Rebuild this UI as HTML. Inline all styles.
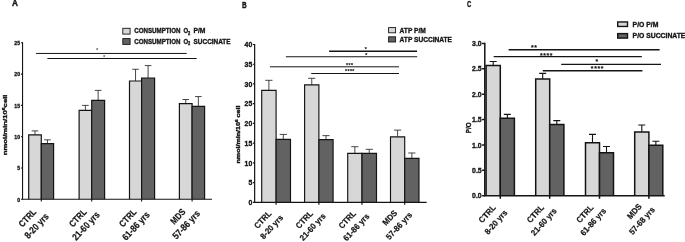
<!DOCTYPE html>
<html><head><meta charset="utf-8"><title>Figure</title>
<style>
html,body{margin:0;padding:0;background:#fff;}
svg{display:block;font-family:"Liberation Sans",sans-serif;font-weight:bold;fill:#141414;}
svg text{stroke:#141414;stroke-width:0.35px;}
svg text.xl{stroke-width:0.2px;}
svg text.st{stroke:#222;stroke-width:0.15px;fill:#222;}
</style></head><body>
<svg width="685" height="242" viewBox="0 0 685 242">
<rect width="685" height="242" fill="#fff"/>
<path d="M35 134.82V130.88M31.7 130.88H38.3" stroke="#333" stroke-width="0.9" fill="none"/>
<path d="M28.7 199.3V134.82H41.3V199.3" fill="#d7d7d7" stroke="#141414" stroke-width="1.2" stroke-linejoin="miter"/>
<path d="M47.45 143.59V139.83M44.15 139.83H50.75" stroke="#333" stroke-width="0.9" fill="none"/>
<path d="M41.3 199.3V143.59H53.6V199.3" fill="#626262" stroke="#141414" stroke-width="1.2" stroke-linejoin="miter"/>
<path d="M85.4 110.41V105.4M82.1 105.4H88.7" stroke="#333" stroke-width="0.9" fill="none"/>
<path d="M79.1 199.3V110.41H91.7V199.3" fill="#d7d7d7" stroke="#141414" stroke-width="1.2" stroke-linejoin="miter"/>
<path d="M98.15 100.39V90.38M94.85 90.38H101.45" stroke="#333" stroke-width="0.9" fill="none"/>
<path d="M91.7 199.3V100.39H104.6V199.3" fill="#626262" stroke="#141414" stroke-width="1.2" stroke-linejoin="miter"/>
<path d="M135.55 80.99V69.28M132.25 69.28H138.85" stroke="#333" stroke-width="0.9" fill="none"/>
<path d="M129.5 199.3V80.99H141.6V199.3" fill="#d7d7d7" stroke="#141414" stroke-width="1.2" stroke-linejoin="miter"/>
<path d="M148.1 77.98V65.59M144.8 65.59H151.4" stroke="#333" stroke-width="0.9" fill="none"/>
<path d="M141.6 199.3V77.98H154.6V199.3" fill="#626262" stroke="#141414" stroke-width="1.2" stroke-linejoin="miter"/>
<path d="M185.75 103.71V99.52M182.45 99.52H189.05" stroke="#333" stroke-width="0.9" fill="none"/>
<path d="M179.4 199.3V103.71H192.1V199.3" fill="#d7d7d7" stroke="#141414" stroke-width="1.2" stroke-linejoin="miter"/>
<path d="M198.35 106.4V96.57M195.05 96.57H201.65" stroke="#333" stroke-width="0.9" fill="none"/>
<path d="M192.1 199.3V106.4H204.6V199.3" fill="#626262" stroke="#141414" stroke-width="1.2" stroke-linejoin="miter"/>
<path d="M22.55 42.3V199.3H212" stroke="#141414" stroke-width="1.1" fill="none"/>
<text transform="translate(20.05 201.52) scale(0.83 1)" font-size="6.2" text-anchor="end">0</text>
<text transform="translate(20.05 170.22) scale(0.83 1)" font-size="6.2" text-anchor="end">5</text>
<text transform="translate(20.05 138.92) scale(0.83 1)" font-size="6.2" text-anchor="end">10</text>
<text transform="translate(20.05 107.62) scale(0.83 1)" font-size="6.2" text-anchor="end">15</text>
<text transform="translate(20.05 76.32) scale(0.83 1)" font-size="6.2" text-anchor="end">20</text>
<text transform="translate(20.05 45.02) scale(0.83 1)" font-size="6.2" text-anchor="end">25</text>
<path d="M20.95 199.3H22.55M20.95 168H22.55M20.95 136.7H22.55M20.95 105.4H22.55M20.95 74.1H22.55M20.95 42.8H22.55M41.3 199.3V201.5M91.7 199.3V201.5M141.6 199.3V201.5M192.1 199.3V201.5" stroke="#141414" stroke-width="1.1" fill="none"/>
<text transform="translate(29.69 220.13) rotate(-47) scale(0.85 1)" font-size="9.2" text-anchor="middle" class="xl">CTRL</text>
<text transform="translate(38.92 228.11) rotate(-47) scale(0.85 1)" font-size="9.6" text-anchor="middle" class="xl">8-20 yrs</text>
<text transform="translate(80.09 220.13) rotate(-47) scale(0.85 1)" font-size="9.2" text-anchor="middle" class="xl">CTRL</text>
<text transform="translate(88.32 228.11) rotate(-47) scale(0.85 1)" font-size="9.6" text-anchor="middle" class="xl">21-60 yrs</text>
<text transform="translate(129.99 220.13) rotate(-47) scale(0.85 1)" font-size="9.2" text-anchor="middle" class="xl">CTRL</text>
<text transform="translate(138.22 228.11) rotate(-47) scale(0.85 1)" font-size="9.6" text-anchor="middle" class="xl">61-86 yrs</text>
<text transform="translate(180.19 218.63) rotate(-47) scale(0.85 1)" font-size="9.2" text-anchor="middle" class="xl">MDS</text>
<text transform="translate(188.62 226.91) rotate(-47) scale(0.85 1)" font-size="9.6" text-anchor="middle" class="xl">57-86 yrs</text>
<path d="M36.1 53.45H186.7" stroke="#141414" stroke-width="1.0"/>
<path d="M47.4 58.5H196.7" stroke="#141414" stroke-width="1.0"/>
<text transform="translate(97.15 51.96) scale(0.83 1)" font-size="5.9" text-anchor="middle" class="st" letter-spacing="0" style="fill:#6a6a6a;stroke:#6a6a6a">*</text>
<text transform="translate(104.15 59.36) scale(0.83 1)" font-size="5.9" text-anchor="middle" class="st" letter-spacing="0" style="fill:#6a6a6a;stroke:#6a6a6a">*</text>
<text transform="translate(6.5 124.9) rotate(-90) scale(1.31 1)" font-size="5.9" text-anchor="middle">nmol/min/10<tspan font-size="4" dy="-2">6</tspan><tspan dy="2">cell</tspan></text>
<rect x="122.8" y="28.3" width="7.3" height="5.8" fill="#d7d7d7" stroke="#141414" stroke-width="0.9"/>
<text transform="translate(134.2 33.48) scale(0.825 1)" font-size="7.5">CONSUMPTION</text>
<text transform="translate(183.4 33.48) scale(0.8 1)" font-size="7.5">O</text>
<text transform="translate(187.9 34.68) scale(0.85 1)" font-size="4.7">2</text>
<text transform="translate(193.4 33.48) scale(0.9 1)" font-size="7.5">P/M</text>
<rect x="122.8" y="38.6" width="7.3" height="5.8" fill="#626262" stroke="#141414" stroke-width="0.9"/>
<text transform="translate(134.2 43.79) scale(0.825 1)" font-size="7.5">CONSUMPTION</text>
<text transform="translate(183.4 43.79) scale(0.8 1)" font-size="7.5">O</text>
<text transform="translate(187.9 44.98) scale(0.85 1)" font-size="4.7">2</text>
<text transform="translate(193.6 43.79) scale(0.856 1)" font-size="7.5">SUCCINATE</text>
<text transform="translate(11.9 5.7) scale(1.0 1)" font-size="8.2">A</text>
<path d="M268.9 90.3V80.32M265.3 80.32H272.5" stroke="#333" stroke-width="0.9" fill="none"/>
<path d="M261.7 202.3V90.3H276.1V202.3" fill="#d7d7d7" stroke="#141414" stroke-width="1.15" stroke-linejoin="miter"/>
<path d="M283.3 139.3V134.41M279.7 134.41H286.9" stroke="#333" stroke-width="0.9" fill="none"/>
<path d="M276.1 202.3V139.3H290.5V202.3" fill="#626262" stroke="#141414" stroke-width="1.15" stroke-linejoin="miter"/>
<path d="M311.75 84.9V78.31M308.15 78.31H315.35" stroke="#333" stroke-width="0.9" fill="none"/>
<path d="M304.6 202.3V84.9H318.9V202.3" fill="#d7d7d7" stroke="#141414" stroke-width="1.15" stroke-linejoin="miter"/>
<path d="M326 139.61V135.63M322.4 135.63H329.6" stroke="#333" stroke-width="0.9" fill="none"/>
<path d="M318.9 202.3V139.61H333.1V202.3" fill="#626262" stroke="#141414" stroke-width="1.15" stroke-linejoin="miter"/>
<path d="M354.85 153.3V146.71M351.25 146.71H358.45" stroke="#333" stroke-width="0.9" fill="none"/>
<path d="M347.7 202.3V153.3H362V202.3" fill="#d7d7d7" stroke="#141414" stroke-width="1.15" stroke-linejoin="miter"/>
<path d="M369.25 153.3V149.32M365.65 149.32H372.85" stroke="#333" stroke-width="0.9" fill="none"/>
<path d="M362 202.3V153.3H376.5V202.3" fill="#626262" stroke="#141414" stroke-width="1.15" stroke-linejoin="miter"/>
<path d="M397.6 136.81V130.11M394 130.11H401.2" stroke="#333" stroke-width="0.9" fill="none"/>
<path d="M390.5 202.3V136.81H404.7V202.3" fill="#d7d7d7" stroke="#141414" stroke-width="1.15" stroke-linejoin="miter"/>
<path d="M411.85 158.39V152.99M408.25 152.99H415.45" stroke="#333" stroke-width="0.9" fill="none"/>
<path d="M404.7 202.3V158.39H419V202.3" fill="#626262" stroke="#141414" stroke-width="1.15" stroke-linejoin="miter"/>
<path d="M254.65 44V202.3H426.7" stroke="#141414" stroke-width="1.2" fill="none"/>
<text transform="translate(252.25 204.95) scale(0.93 1)" font-size="7.4" text-anchor="end">0</text>
<text transform="translate(252.25 185.22) scale(0.93 1)" font-size="7.4" text-anchor="end">5</text>
<text transform="translate(252.25 165.5) scale(0.93 1)" font-size="7.4" text-anchor="end">10</text>
<text transform="translate(252.25 145.77) scale(0.93 1)" font-size="7.4" text-anchor="end">15</text>
<text transform="translate(252.25 126.05) scale(0.93 1)" font-size="7.4" text-anchor="end">20</text>
<text transform="translate(252.25 106.32) scale(0.93 1)" font-size="7.4" text-anchor="end">25</text>
<text transform="translate(252.25 86.6) scale(0.93 1)" font-size="7.4" text-anchor="end">30</text>
<text transform="translate(252.25 66.87) scale(0.93 1)" font-size="7.4" text-anchor="end">35</text>
<text transform="translate(252.25 47.15) scale(0.93 1)" font-size="7.4" text-anchor="end">40</text>
<path d="M252.95 202.3H254.65M252.95 182.58H254.65M252.95 162.85H254.65M252.95 143.12H254.65M252.95 123.4H254.65M252.95 103.68H254.65M252.95 83.95H254.65M252.95 64.23H254.65M252.95 44.5H254.65M276.1 202.3V204.8M318.9 202.3V204.8M362 202.3V204.8M404.7 202.3V204.8" stroke="#141414" stroke-width="1.2" fill="none"/>
<text transform="translate(264.8 221.52) rotate(-47) scale(0.93 1)" font-size="8.4" text-anchor="middle" class="xl">CTRL</text>
<text transform="translate(273.73 228.89) rotate(-47) scale(0.93 1)" font-size="8.4" text-anchor="middle" class="xl">8-20 yrs</text>
<text transform="translate(306.3 221.52) rotate(-47) scale(0.93 1)" font-size="8.4" text-anchor="middle" class="xl">CTRL</text>
<text transform="translate(314.73 228.89) rotate(-47) scale(0.93 1)" font-size="8.4" text-anchor="middle" class="xl">21-60 yrs</text>
<text transform="translate(349.3 221.52) rotate(-47) scale(0.93 1)" font-size="8.4" text-anchor="middle" class="xl">CTRL</text>
<text transform="translate(358.33 229.09) rotate(-47) scale(0.93 1)" font-size="8.4" text-anchor="middle" class="xl">61-86 yrs</text>
<text transform="translate(392 219.72) rotate(-47) scale(0.93 1)" font-size="8.4" text-anchor="middle" class="xl">MDS</text>
<text transform="translate(401.13 227.79) rotate(-47) scale(0.93 1)" font-size="8.4" text-anchor="middle" class="xl">57-86 yrs</text>
<path d="M329.1 51.25H417" stroke="#141414" stroke-width="1.4"/>
<path d="M285.9 56.75H417.2" stroke="#141414" stroke-width="1.0"/>
<path d="M270 66.8H399" stroke="#141414" stroke-width="1.0"/>
<path d="M311.2 73.5H399" stroke="#141414" stroke-width="1.0"/>
<text transform="translate(365.89 51) scale(0.93 1)" font-size="5.6" text-anchor="middle" class="st" letter-spacing="0.4" style="fill:#222;stroke:#222">*</text>
<text transform="translate(366.49 56.7) scale(0.93 1)" font-size="5.6" text-anchor="middle" class="st" letter-spacing="0.4" style="fill:#222;stroke:#222">*</text>
<text transform="translate(349.69 67.1) scale(0.93 1)" font-size="5.6" text-anchor="middle" class="st" letter-spacing="0.4" style="fill:#222;stroke:#222">***</text>
<text transform="translate(349.89 73.2) scale(0.93 1)" font-size="5.6" text-anchor="middle" class="st" letter-spacing="0.4" style="fill:#222;stroke:#222">****</text>
<text transform="translate(239.7 134.5) rotate(-90) scale(1.32 1)" font-size="5.4" text-anchor="middle">nmol/min/10<tspan font-size="3.6" dy="-2">6</tspan><tspan dy="2"> cell</tspan></text>
<rect x="388.6" y="27.6" width="7" height="5.2" fill="#d7d7d7" stroke="#141414" stroke-width="0.9"/>
<text transform="translate(399.6 32.81) scale(0.905 1)" font-size="7.3">ATP P/M</text>
<rect x="388.6" y="36.8" width="7" height="5.2" fill="#626262" stroke="#141414" stroke-width="0.9"/>
<text transform="translate(399.6 42.01) scale(0.905 1)" font-size="7.3">ATP SUCCINATE</text>
<text transform="translate(241.9 7.9) scale(0.79 1)" font-size="8.2">B</text>
<path d="M493.2 65.53V61.51M489.7 61.51H496.7" stroke="#141414" stroke-width="1.1" fill="none"/>
<path d="M486.1 195.7V65.53H500.3V195.7" fill="#d7d7d7" stroke="#141414" stroke-width="1.5" stroke-linejoin="miter"/>
<path d="M507.35 118.2V114.39M503.85 114.39H510.85" stroke="#141414" stroke-width="1.1" fill="none"/>
<path d="M500.3 195.7V118.2H514.4V195.7" fill="#626262" stroke="#141414" stroke-width="1.5" stroke-linejoin="miter"/>
<path d="M542.7 79.08V73.4M539.2 73.4H546.2" stroke="#141414" stroke-width="1.1" fill="none"/>
<path d="M535.7 195.7V79.08H549.7V195.7" fill="#d7d7d7" stroke="#141414" stroke-width="1.5" stroke-linejoin="miter"/>
<path d="M556.8 124.42V120.61M553.3 120.61H560.3" stroke="#141414" stroke-width="1.1" fill="none"/>
<path d="M549.7 195.7V124.42H563.9V195.7" fill="#626262" stroke="#141414" stroke-width="1.5" stroke-linejoin="miter"/>
<path d="M592.5 142.8V134.42M589 134.42H596" stroke="#141414" stroke-width="1.1" fill="none"/>
<path d="M585.5 195.7V142.8H599.5V195.7" fill="#d7d7d7" stroke="#141414" stroke-width="1.5" stroke-linejoin="miter"/>
<path d="M606.5 152.8V146.5M603 146.5H610" stroke="#141414" stroke-width="1.1" fill="none"/>
<path d="M599.5 195.7V152.8H613.5V195.7" fill="#626262" stroke="#141414" stroke-width="1.5" stroke-linejoin="miter"/>
<path d="M641.8 132V124.99M638.3 124.99H645.3" stroke="#141414" stroke-width="1.1" fill="none"/>
<path d="M634.7 195.7V132H648.9V195.7" fill="#d7d7d7" stroke="#141414" stroke-width="1.5" stroke-linejoin="miter"/>
<path d="M655.85 145.3V141.19M652.35 141.19H659.35" stroke="#141414" stroke-width="1.1" fill="none"/>
<path d="M648.9 195.7V145.3H662.8V195.7" fill="#626262" stroke="#141414" stroke-width="1.5" stroke-linejoin="miter"/>
<path d="M484.8 42.7V195.7H664.7" stroke="#141414" stroke-width="1.5" fill="none"/>
<text transform="translate(481.6 198.35) scale(0.93 1)" font-size="7.4" text-anchor="end">0.0</text>
<text transform="translate(481.6 172.96) scale(0.93 1)" font-size="7.4" text-anchor="end">0.5</text>
<text transform="translate(481.6 147.58) scale(0.93 1)" font-size="7.4" text-anchor="end">1.0</text>
<text transform="translate(481.6 122.19) scale(0.93 1)" font-size="7.4" text-anchor="end">1.5</text>
<text transform="translate(481.6 96.81) scale(0.93 1)" font-size="7.4" text-anchor="end">2.0</text>
<text transform="translate(481.6 71.42) scale(0.93 1)" font-size="7.4" text-anchor="end">2.5</text>
<text transform="translate(481.6 46.04) scale(0.93 1)" font-size="7.4" text-anchor="end">3.0</text>
<path d="M482.1 195.7H484.8M482.1 170.31H484.8M482.1 144.93H484.8M482.1 119.54H484.8M482.1 94.16H484.8M482.1 68.77H484.8M482.1 43.39H484.8M500.3 195.7V198.7M549.7 195.7V198.7M599.5 195.7V198.7M648.9 195.7V198.7" stroke="#141414" stroke-width="1.5" fill="none"/>
<text transform="translate(489.33 215.64) rotate(-48) scale(0.93 1)" font-size="8.4" text-anchor="middle" class="xl">CTRL</text>
<text transform="translate(498.03 224.07) rotate(-48) scale(0.93 1)" font-size="8.4" text-anchor="middle" class="xl">8-20 yrs</text>
<text transform="translate(537.53 215.64) rotate(-48) scale(0.93 1)" font-size="8.4" text-anchor="middle" class="xl">CTRL</text>
<text transform="translate(545.93 223.77) rotate(-48) scale(0.93 1)" font-size="8.4" text-anchor="middle" class="xl">21-60 yrs</text>
<text transform="translate(586.93 215.64) rotate(-48) scale(0.93 1)" font-size="8.4" text-anchor="middle" class="xl">CTRL</text>
<text transform="translate(595.23 223.77) rotate(-48) scale(0.93 1)" font-size="8.4" text-anchor="middle" class="xl">61-86 yrs</text>
<text transform="translate(636.53 213.24) rotate(-48) scale(0.93 1)" font-size="8.4" text-anchor="middle" class="xl">MDS</text>
<text transform="translate(644.03 222.57) rotate(-48) scale(0.93 1)" font-size="8.4" text-anchor="middle" class="xl">57-68 yrs</text>
<path d="M508.6 49.7H659.6" stroke="#141414" stroke-width="1.5"/>
<path d="M493.7 56.65H641.8" stroke="#141414" stroke-width="1.4"/>
<path d="M561.2 64.35H661" stroke="#141414" stroke-width="1.4"/>
<path d="M542.8 70.7H642.4" stroke="#141414" stroke-width="1.4"/>
<text transform="translate(534.2 49.5) scale(0.93 1)" font-size="7.2" text-anchor="middle" class="st" letter-spacing="0.75" style="fill:#111;stroke:#111">**</text>
<text transform="translate(546.5 57.5) scale(0.93 1)" font-size="7.2" text-anchor="middle" class="st" letter-spacing="0.75" style="fill:#111;stroke:#111">****</text>
<text transform="translate(597.25 63.7) scale(0.93 1)" font-size="7.2" text-anchor="middle" class="st" letter-spacing="0.75" style="fill:#111;stroke:#111">*</text>
<text transform="translate(597.45 71.2) scale(0.93 1)" font-size="7.2" text-anchor="middle" class="st" letter-spacing="0.75" style="fill:#111;stroke:#111">****</text>
<text transform="translate(471.1 127.8) rotate(-90) scale(0.84 1)" font-size="7.5" text-anchor="middle">P/O</text>
<rect x="617.7" y="21.95" width="9.8" height="4.5" fill="#d7d7d7" stroke="#141414" stroke-width="1.4"/>
<text transform="translate(632.6 26.81) scale(0.935 1)" font-size="7.3">P/O P/M</text>
<rect x="617.7" y="33.6" width="9.8" height="4.5" fill="#626262" stroke="#141414" stroke-width="1.4"/>
<text transform="translate(632.6 38.46) scale(0.935 1)" font-size="7.3">P/O SUCCINATE</text>
<text transform="translate(466.9 6.5) scale(0.72 1)" font-size="8.2">C</text>
</svg>
</body></html>
